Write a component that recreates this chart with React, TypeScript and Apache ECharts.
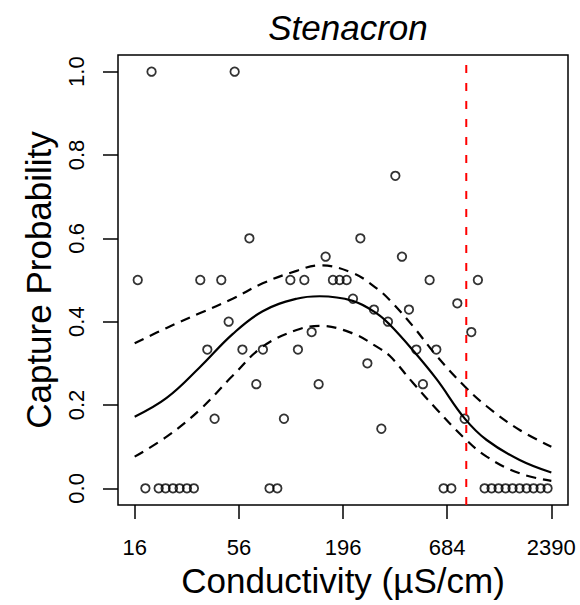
import React, { useEffect, useRef } from "react";
import * as echarts from "echarts";

const titleText = "Stenacron";
const xAxisTitle = "Conductivity (µS/cm)";
const yAxisTitle = "Capture Probability";

const xTickValues = [16, 56, 196, 684, 2390];
const yTickValues = [0, 0.2, 0.4, 0.6, 0.8, 1.0];

const pointConductivity = [
  16.6, 18.2, 19.6, 21.35, 23.2, 25.35, 27.46, 29.98, 32.6, 35.2,
  38.3, 41.8, 45.3, 49.5, 53.2, 58.4, 63.5, 69.0, 74.7, 80.9,
  88.8, 96.2, 103.9, 113.8, 122.9, 134.2, 145.9, 158.7, 173.3, 187.8,
  204.3, 220.4, 240.9, 262.1, 283.7, 310.0, 335.6, 366.8, 397.1, 431.9,
  472.0, 510.9, 553.7, 600.1, 655.1, 718.6, 772.3, 843.1, 913.8, 988.9,
  1072, 1166, 1268, 1379, 1500, 1632, 1775, 1930, 2100, 2284,
];
const pointProbability = [
  0.5, 0, 1.0, 0, 0, 0, 0, 0, 0, 0.5,
  0.333, 0.167, 0.5, 0.4, 1.0, 0.333, 0.6, 0.25, 0.333, 0,
  0, 0.167, 0.5, 0.333, 0.5, 0.375, 0.25, 0.556, 0.5, 0.5,
  0.5, 0.455, 0.6, 0.3, 0.429, 0.143, 0.4, 0.75, 0.556, 0.429,
  0.333, 0.25, 0.5, 0.333, 0, 0, 0.444, 0.167, 0.375, 0.5,
  0, 0, 0, 0, 0, 0, 0, 0, 0, 0,
];

const curveConductivity = [16, 23.5, 34.9, 51.9, 74.5, 112, 147.7, 219.6, 293, 342.6, 451.6, 602, 843, 1099, 1633, 2390];
const fitMean = [0.172, 0.217, 0.29, 0.37, 0.425, 0.455, 0.461, 0.45, 0.42, 0.393, 0.332, 0.262, 0.168, 0.116, 0.068, 0.038];
const fitUpper = [0.348, 0.385, 0.42, 0.455, 0.492, 0.522, 0.535, 0.517, 0.48, 0.452, 0.39, 0.318, 0.245, 0.197, 0.14, 0.1];
const fitLower = [0.076, 0.124, 0.188, 0.27, 0.34, 0.38, 0.39, 0.372, 0.34, 0.318, 0.254, 0.19, 0.12, 0.076, 0.036, 0.018];

const thresholdConductivity = [860];

const FONT = "'Liberation Sans', Arial, Helvetica, sans-serif";

export default function App() {
  const ref = useRef<HTMLDivElement>(null);

  useEffect(() => {
    if (!ref.current) return;
    const chart = echarts.init(ref.current, undefined, { renderer: "svg" });

    const lo = Math.log(xTickValues[0]);
    const hi = Math.log(xTickValues[xTickValues.length - 1]);
    const pad = 0.04 * (hi - lo);
    const yLo = yTickValues[0];
    const yHi = yTickValues[yTickValues.length - 1];
    const yPad = 0.04 * (yHi - yLo);

    const curve = (vals: number[]) => curveConductivity.map((c, i) => [Math.log(c), vals[i]]);

    const option: any = {
      animation: false,
      backgroundColor: "#fff",
      title: {
        text: titleText,
        left: 343,
        top: 5,
        textAlign: "center",
        textStyle: { fontFamily: FONT, fontSize: 35, fontStyle: "italic", fontWeight: "normal", color: "#000" },
      },
      grid: {
        left: 118,
        top: 55,
        width: 450,
        height: 450,
        show: true,
        borderColor: "#000",
        borderWidth: 1.5,
        backgroundColor: "transparent",
      },
      xAxis: {
        type: "value",
        min: lo - pad,
        max: hi + pad,
        axisLine: { show: false, onZero: false },
        splitLine: { show: false },
        axisTick: {
          show: true,
          inside: false,
          length: 14,
          lineStyle: { color: "#000", width: 1.5 },
          customValues: xTickValues.map((t) => Math.log(t)),
        },
        axisLabel: {
          show: true,
          margin: 31,
          fontFamily: FONT,
          fontSize: 22,
          color: "#000",
          customValues: xTickValues.map((t) => Math.log(t)),
          formatter: (v: number) => {
            const t = xTickValues.find((tt) => Math.abs(Math.log(tt) - v) < 1e-6);
            return t !== undefined ? String(t) : "";
          },
        },
        name: xAxisTitle,
        nameLocation: "middle",
        nameGap: 56,
        nameTextStyle: { fontFamily: FONT, fontSize: 35, color: "#000" },
      },
      yAxis: {
        type: "value",
        min: yLo - yPad,
        max: yHi + yPad,
        axisLine: { show: false, onZero: false },
        splitLine: { show: false },
        axisTick: {
          show: true,
          inside: false,
          length: 15,
          lineStyle: { color: "#000", width: 1.5 },
          customValues: yTickValues,
        },
        axisLabel: {
          show: true,
          rotate: 90,
          margin: 31,
          fontFamily: FONT,
          fontSize: 22,
          color: "#000",
          customValues: yTickValues,
          formatter: (v: number) => v.toFixed(1),
        },
        name: yAxisTitle,
        nameLocation: "middle",
        nameGap: 62,
        nameTextStyle: { fontFamily: FONT, fontSize: 35, color: "#000" },
      },
      series: [
        {
          type: "scatter",
          data: pointConductivity.map((c, i) => [Math.log(c), pointProbability[i]]),
          symbol: "circle",
          symbolSize: 8.5,
          itemStyle: { color: "rgba(0,0,0,0)", borderColor: "#000", borderWidth: 1.8 },
          z: 2,
        },
        {
          type: "line",
          data: curve(fitMean),
          showSymbol: false,
          smooth: 0.4,
          lineStyle: { color: "#000", width: 2.2, type: "solid" },
          z: 3,
        },
        {
          type: "line",
          data: curve(fitUpper),
          showSymbol: false,
          smooth: 0.4,
          lineStyle: { color: "#000", width: 2.2, type: [10, 7] },
          z: 3,
        },
        {
          type: "line",
          data: curve(fitLower),
          showSymbol: false,
          smooth: 0.4,
          lineStyle: { color: "#000", width: 2.2, type: [10, 7] },
          z: 3,
        },
        {
          type: "line",
          data: [
            [Math.log(thresholdConductivity[0]), yLo - yPad],
            [Math.log(thresholdConductivity[0]), yHi + yPad],
          ],
          showSymbol: false,
          lineStyle: { color: "#FF0000", width: 2, type: [8, 10] },
          z: 4,
        },
      ],
    };

    chart.setOption(option);
    return () => chart.dispose();
  }, []);

  return (
    <div
      ref={ref}
      style={{ position: "fixed", left: 0, top: 0, width: 580, height: 605, background: "#fff" }}
    />
  );
}
